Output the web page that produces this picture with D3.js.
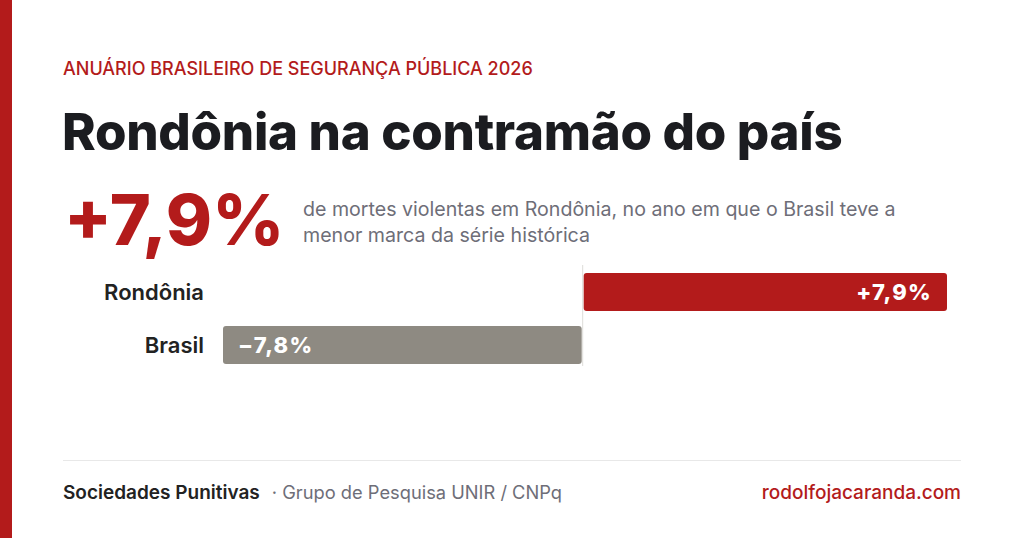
<!DOCTYPE html>
<html><head><meta charset="utf-8">
<script src="https://cdn.jsdelivr.net/npm/d3@7"></script>
<style>
html,body{margin:0;padding:0;background:#fff;}
svg{display:block;font-family:Inter,"Noto Sans",sans-serif;}
</style></head>
<body>
<svg id="chart" width="1024" height="538"></svg>
<script>
const categories = ["Rondônia", "Brasil"];
const values = [7.9, -7.8];
const valueLabels = ["+7,9%", "\u22127,8%"];
const kicker = "ANUÁRIO BRASILEIRO DE SEGURANÇA PÚBLICA 2026";
const title = "Rondônia na contramão do país";
const bigNumber = "+7,9%";
const descLines = ["de mortes violentas em Rondônia, no ano em que o Brasil teve a", "menor marca da série histórica"];
const footerLeft = "Sociedades Punitivas";
const footerMid = "· Grupo de Pesquisa UNIR / CNPq";
const footerRight = "rodolfojacaranda.com";

const RED = "#b31b1b", GRAY = "#8e8a82", INK = "#1b1c20", MUTED = "#6e6e78";
const svg = d3.select("#chart");

svg.append("rect").attr("x",0).attr("y",0).attr("width",12).attr("height",538).attr("fill",RED);

svg.append("text").attr("x",63).attr("y",75).attr("fill",RED)
  .attr("font-size",18).attr("font-weight",500).text(kicker);
svg.append("text").attr("x",62).attr("y",150).attr("fill",INK)
  .attr("font-size",51).attr("font-weight",800).attr("letter-spacing",-0.3).text(title);
svg.append("text").attr("x",64).attr("y",245).attr("fill",RED)
  .attr("font-size",70).attr("font-weight",800).text(bigNumber);
svg.append("text").attr("x",303).attr("y",216).attr("fill",MUTED)
  .attr("font-size",19.6).attr("font-weight",400)
  .selectAll("tspan").data(descLines).join("tspan")
  .attr("x",303).attr("dy",(d,i)=>i?26:0).text(d=>d);

// chart
const x = d3.scaleLinear().domain([-7.8, 7.9]).range([223, 947]);
const y = d3.scaleBand().domain(categories).range([273, 364]).paddingInner(15/53).paddingOuter(0);

svg.append("line").attr("x1",x(0)).attr("x2",x(0)).attr("y1",265).attr("y2",366)
  .attr("stroke","#dddcd8").attr("stroke-width",1);

const g = svg.append("g");
const rows = categories.map((c,i)=>({c, v:values[i], l:valueLabels[i]}));
g.selectAll("rect.bar").data(rows).join("rect").attr("class","bar")
  .attr("x",d=>d.v>=0 ? x(0)+1 : x(d.v))
  .attr("width",d=>d.v>=0 ? x(d.v)-x(0)-1 : x(0)-x(d.v)-1)
  .attr("y",d=>y(d.c)).attr("height",y.bandwidth())
  .attr("rx",3).attr("fill",(d,i)=>i===0?RED:GRAY);

g.selectAll("text.cat").data(rows).join("text").attr("class","cat")
  .attr("x",204).attr("y",d=>y(d.c)+y.bandwidth()/2+8)
  .attr("text-anchor","end").attr("fill","#222").attr("font-size",22).attr("font-weight",600)
  .text(d=>d.c);

g.selectAll("text.val").data(rows).join("text").attr("class","val")
  .attr("x",d=>d.v>=0 ? x(d.v)-15 : x(d.v)+15)
  .attr("text-anchor",d=>d.v>=0?"end":"start")
  .attr("y",d=>y(d.c)+y.bandwidth()/2+8)
  .attr("fill","#fff").attr("font-size",22).attr("font-weight",800).attr("letter-spacing",1.3)
  .text(d=>d.l);

// footer
svg.append("line").attr("x1",63).attr("x2",961).attr("y1",460.5).attr("y2",460.5)
  .attr("stroke","#e8e8e8").attr("stroke-width",1);
const ft = svg.append("text").attr("x",63).attr("y",499);
ft.append("tspan").attr("fill","#222").attr("font-size",19).attr("font-weight",600).text(footerLeft);
ft.append("tspan").attr("dx",12).attr("fill",MUTED).attr("font-size",18.3).attr("font-weight",400).text(footerMid);
svg.append("text").attr("x",961).attr("y",499).attr("text-anchor","end")
  .attr("fill",RED).attr("font-size",19).attr("font-weight",500).text(footerRight);
</script>
</body></html>
